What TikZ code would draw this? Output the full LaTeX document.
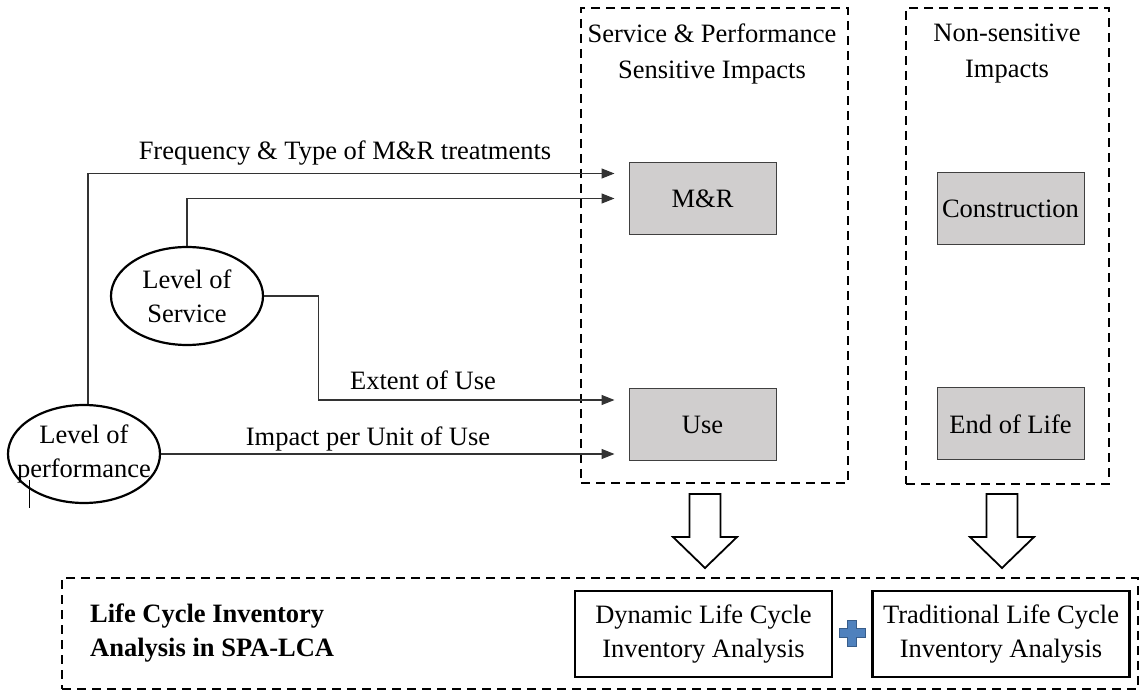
\documentclass[tikz,border=0pt]{standalone}
\usepackage{fontspec}
\setmainfont{LiberationSerif}[Extension=.ttf, UprightFont=*-Regular, BoldFont=*-Bold,
  ItalicFont=*-Italic, BoldItalicFont=*-BoldItalic]
\usetikzlibrary{arrows.meta,shapes.geometric}
\definecolor{boxgray}{RGB}{208,206,206}
\definecolor{plusfill}{RGB}{79,129,189}
\definecolor{plusline}{RGB}{56,93,138}
\begin{document}
\begin{tikzpicture}[x=1pt,y=-1pt,
  every node/.style={font=\fontsize{26.5}{34}\selectfont, inner sep=0pt},
  dashbox/.style={draw, line width=2.4pt, dash pattern=on 9pt off 6pt},
  grouptitle/.style={align=center, font=\fontsize{26.5}{36}\selectfont},
  stage/.style={draw=black!75, line width=1pt, fill=boxgray, minimum width=147pt, minimum height=72pt},
  lcibox/.style={draw, line width=2.2pt, minimum width=257pt, minimum height=86pt, align=center},
  factor/.style={draw, line width=2.2pt, ellipse, inner xsep=-16pt, inner ysep=-12pt,
                 minimum width=152pt, minimum height=98pt, align=center},
  link/.style={draw=black!80, line width=1.1pt, -{Triangle[length=13pt,width=10pt]}, shorten >=14pt},
  hollow/.style={draw, line width=1.8pt, fill=white, line join=miter},
]
\useasboundingbox (0,0) rectangle (1144,692);

% impact groups
\node[dashbox, minimum width=267pt, minimum height=475pt] (sens) at (714.5,245.5) {};
\node[grouptitle] (sensT) at (712,54) {Service \& Performance\\Sensitive Impacts};
\node[dashbox, minimum width=203pt, minimum height=476pt] (nons) at (1007.5,246) {};
\node[grouptitle] (nonsT) at (1007,54) {Non-sensitive\\Impacts};

% life cycle stages
\node[stage] (mr)   at (702.5,198.5) {M\&R};
\node[stage] (use)  at (702.5,425)   {Use};
\node[stage] (cons) at (1010.5,209)  {Construction};
\node[stage] (eol)  at (1010.5,424)  {End of Life};

% driving factors
\node[factor] (los)  at (187,296) {Level of\\Service};
\node[factor] (perf) at (84,454)  {Level of\\performance};
\draw[line width=0.8pt] (29,480) -- (29,508);

% influence links
\draw[link] ([xshift=4pt]perf.north) |- ([yshift=25pt]mr.west);
\draw[link] (los.north) |- (mr.west);
\draw[link] (los.east) -- ++(54,0) |- ([yshift=25pt]use.west);
\draw[link] (perf.east) -- (perf.east -| use.west);

\node (lfreq) at (345,153) {Frequency \& Type of M\&R treatments};
\node (lext)  at (423,380) {Extent of Use};
\node (limp)  at (368,439) {Impact per Unit of Use};

% transfer arrows
\coordinate (h1) at (705,494);
\coordinate (h2) at (1002,494);
\draw[hollow] ([xshift=-15.5pt]h1) -- ++(31,0) -- ++(0,43) -- ++(16.5,0) -- ++(-32,31)
  -- ++(-32,-31) -- ++(16.5,0) -- cycle;
\draw[hollow] ([xshift=-15.5pt]h2) -- ++(31,0) -- ++(0,43) -- ++(16.5,0) -- ++(-32,31)
  -- ++(-32,-31) -- ++(16.5,0) -- cycle;

% inventory analysis
\node[dashbox, minimum width=1076pt, minimum height=111pt] (lci) at (600,633.5) {};
\node[align=left, anchor=west, font=\fontsize{26.5}{34}\selectfont\bfseries] (lciT) at (90,633)
  {Life Cycle Inventory\\Analysis in SPA-LCA};
\node[lcibox] (dyn)  at (703.5,634) {Dynamic Life Cycle\\Inventory Analysis};
\node[lcibox] (trad) at (1001,634)  {Traditional Life Cycle\\Inventory Analysis};

\node (plus) at (852,633) {};
\draw[fill=plusfill, draw=plusline, line width=0.8pt]
  ([shift={(-4.5,-13)}]plus.center) -- ++(9,0) -- ++(0,8.5) -- ++(8.5,0) -- ++(0,9)
  -- ++(-8.5,0) -- ++(0,8.5) -- ++(-9,0) -- ++(0,-8.5) -- ++(-8.5,0) -- ++(0,-9)
  -- ++(8.5,0) -- cycle;
\end{tikzpicture}
\end{document}
